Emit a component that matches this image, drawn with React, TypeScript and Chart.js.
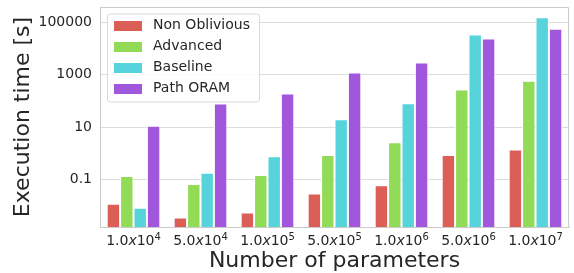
import React, { useEffect, useRef } from 'react';
import { Chart, registerables } from 'chart.js';

Chart.register(...registerables);

const mantissas = ['1.0', '5.0', '1.0', '5.0', '1.0', '5.0', '1.0'];
const exponents = ['4', '4', '5', '5', '6', '6', '7'];
const categories = mantissas.map((m, i) => `${m}x10^${exponents[i]}`);
const seriesNames = ['Non Oblivious', 'Advanced', 'Baseline', 'Path ORAM'];
const nonOblivious = [0.0117, 0.0035, 0.0054, 0.029, 0.06, 0.85, 1.4];
const advanced = [0.134, 0.066, 0.146, 0.85, 2.6, 270, 580];
const baselineSeries = [0.0083, 0.178, 0.77, 20, 81, 34000, 156000];
const pathOram = [11.1, 79, 190, 1200, 2900, 24000, 56000];
const yTickValues = [0.1, 10, 1000, 100000];
const yMin = 0.00152;
const yMax = 383000;
const seriesColors = ['#db5f57', '#91db57', '#57d3db', '#a157db'];

const FONT = '"DejaVu Sans", sans-serif';
const TEXT = '#262626';

const framePlugin = {
  id: 'framePlugin',
  afterLayout(chart: any) {
    const lg = chart.legend;
    if (lg) {
      const ca = chart.chartArea;
      lg.left = ca.left + 7;
      lg.top = ca.top + 4.5;
      lg.right = lg.left + lg.width;
      lg.bottom = lg.top + lg.height;
      if (!lg.__patched) {
        const orig = lg.draw;
        lg.draw = function (...args: any[]) {
          const ctx = this.ctx;
          ctx.save();
          const x = this.left + 0.5;
          const y = this.top + 2.5;
          const w = 152;
          const h = 88;
          const r = 3;
          ctx.beginPath();
          ctx.moveTo(x + r, y);
          ctx.lineTo(x + w - r, y);
          ctx.arcTo(x + w, y, x + w, y + r, r);
          ctx.lineTo(x + w, y + h - r);
          ctx.arcTo(x + w, y + h, x + w - r, y + h, r);
          ctx.lineTo(x + r, y + h);
          ctx.arcTo(x, y + h, x, y + h - r, r);
          ctx.lineTo(x, y + r);
          ctx.arcTo(x, y, x + r, y, r);
          ctx.closePath();
          ctx.fillStyle = 'rgba(255,255,255,0.85)';
          ctx.fill();
          ctx.strokeStyle = '#d9d9d9';
          ctx.lineWidth = 1;
          ctx.stroke();
          ctx.restore();
          return orig.apply(this, args);
        };
        lg.__patched = true;
      }
    }
  },
  afterDatasetsDraw(chart: any) {
    const { ctx, chartArea } = chart;
    ctx.save();
    ctx.strokeStyle = '#cccccc';
    ctx.lineWidth = 1;
    const t = Math.round(chartArea.top) + 0.5;
    const r = Math.round(chartArea.right) - 0.5;
    ctx.beginPath();
    ctx.moveTo(chartArea.left, t);
    ctx.lineTo(r, t);
    ctx.lineTo(r, chartArea.bottom);
    ctx.stroke();
    ctx.restore();
  },
  afterDraw(chart: any) {
    const { ctx, chartArea } = chart;
    const xs = chart.scales.x;
    const base = chartArea.bottom + 18.3;
    const normal = `14px ${FONT}`;
    const italic = `oblique 14px ${FONT}`;
    const sup = `10px ${FONT}`;
    ctx.save();
    ctx.fillStyle = TEXT;
    ctx.textBaseline = 'alphabetic';
    ctx.textAlign = 'left';
    mantissas.forEach((m, i) => {
      const parts = [
        { t: m, f: normal, dy: 0 },
        { t: 'x', f: italic, dy: 0 },
        { t: '10', f: normal, dy: 0 },
        { t: exponents[i], f: sup, dy: -5 },
      ];
      let total = 0;
      const widths = parts.map((p) => {
        ctx.font = p.f;
        const w = ctx.measureText(p.t).width;
        total += w;
        return w;
      });
      let x = xs.getPixelForTick(i) - total / 2;
      parts.forEach((p, k) => {
        ctx.font = p.f;
        ctx.fillText(p.t, x, base + p.dy);
        x += widths[k];
      });
    });
    ctx.restore();
  },
};

function makeSwatch(color: string) {
  const c = document.createElement('canvas');
  c.width = 32;
  c.height = 10;
  const g = c.getContext('2d') as CanvasRenderingContext2D;
  g.fillStyle = color;
  g.fillRect(0, 0, 28, 10);
  return c;
}

export default function App() {
  const ref = useRef<HTMLCanvasElement>(null);

  useEffect(() => {
    document.body.style.margin = '0';
    const allSeries = [nonOblivious, advanced, baselineSeries, pathOram];
    const swatches = seriesColors.map(makeSwatch);
    const chart = new Chart(ref.current as HTMLCanvasElement, {
      type: 'bar',
      data: {
        labels: categories,
        datasets: allSeries.map((d, i) => ({
          label: seriesNames[i],
          data: d,
          backgroundColor: seriesColors[i],
          borderColor: '#ffffff',
          borderWidth: 1,
          barPercentage: 1,
          categoryPercentage: 0.8,
        })),
      },
      options: {
        responsive: false,
        animation: false,
        devicePixelRatio: 1,
        layout: { padding: { top: 7, right: 5, left: 0, bottom: 0 } },
        plugins: {
          tooltip: { enabled: false },
          legend: {
            position: 'chartArea',
            align: 'start',
            labels: {
              usePointStyle: true,
              pointStyleWidth: 32,
              boxWidth: 32,
              boxHeight: 10,
              padding: 7,
              color: TEXT,
              textAlign: 'left',
              font: { family: FONT, size: 14 },
              generateLabels: (c: any) =>
                c.data.datasets.map((ds: any, i: number) => ({
                  text: ds.label,
                  fillStyle: ds.backgroundColor,
                  strokeStyle: ds.backgroundColor,
                  lineWidth: 0,
                  pointStyle: swatches[i],
                  hidden: false,
                  datasetIndex: i,
                  fontColor: TEXT,
                })),
            },
          },
        },
        scales: {
          x: {
            type: 'category',
            offset: true,
            grid: { display: false, drawTicks: false },
            border: { display: true, color: '#cccccc' },
            ticks: { display: false, autoSkip: false, maxRotation: 0 },
            title: {
              display: true,
              text: 'Number of parameters',
              color: TEXT,
              font: { family: FONT, size: 22, lineHeight: 1 },
              padding: { top: 0, bottom: 1 },
            },
            afterFit(s: any) {
              s.height = 46;
              s.paddingLeft = 0;
              s.paddingRight = 0;
            },
          },
          y: {
            type: 'logarithmic',
            min: yMin,
            max: yMax,
            bounds: 'data',
            grid: { color: '#dcdcdc', drawTicks: false, lineWidth: 1 },
            border: { display: true, color: '#cccccc' },
            ticks: {
              color: TEXT,
              font: { family: FONT, size: 14, lineHeight: 1 },
              padding: 8,
              callback: (v: any) => String(v),
            },
            afterBuildTicks(s: any) {
              s.ticks = yTickValues.map((v) => ({ value: v }));
            },
            title: {
              display: true,
              text: 'Execution time [s]',
              color: TEXT,
              font: { family: FONT, size: 22, lineHeight: 1 },
              padding: { top: 12, bottom: 0 },
            },
            afterFit(s: any) {
              s.width = 100;
              s.paddingTop = 0;
              s.paddingBottom = 0;
            },
          },
        },
      },
      plugins: [framePlugin],
    } as any);
    return () => chart.destroy();
  }, []);

  return (
    <div style={{ width: 574, height: 273 }}>
      <canvas ref={ref} width={574} height={273} style={{ display: 'block' }} />
    </div>
  );
}
